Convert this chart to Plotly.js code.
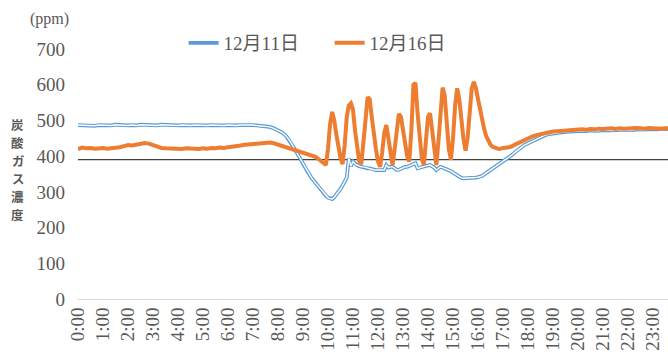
<!DOCTYPE html>
<html><head><meta charset="utf-8">
<script src="https://cdn.plot.ly/plotly-3.0.1.min.js"></script>
<style>html,body{margin:0;padding:0;background:#fff}#chart{width:668px;height:356px}</style>
</head><body><div id="chart"></div>
<script>
const seriesNames = ['12月11日', '12月16日'];
const tickLabels = ['0:00','1:00','2:00','3:00','4:00','5:00','6:00','7:00','8:00','9:00','10:00','11:00',
  '12:00','13:00','14:00','15:00','16:00','17:00','18:00','19:00','20:00','21:00','22:00','23:00'];
const yTitle = '炭酸ガス濃度';
const unitLabel = '(ppm)';
const referenceLevel = 390;

// sample times: every 10 min to 9:30, every 5 min 9:35-17:00, every 10 min 17:10-23:50
const sampleMinutes = [];
for (let m = 0; m <= 570; m += 10) sampleMinutes.push(m);
for (let m = 575; m <= 1020; m += 5) sampleMinutes.push(m);
for (let m = 1030; m <= 1430; m += 10) sampleMinutes.push(m);
const times = sampleMinutes.map(m => Math.floor(m / 60) + ':' + String(m % 60).padStart(2, '0'));

const dec11 = [
  // 0:00-9:30 (10 min)
  487,486,487,486,485,487, 486,487,486,488,487,486, 486,487,486,488,487,486,
  487,486,488,487,486,485, 486,487,486,486,487,486, 485,486,487,486,487,486,
  487,486,486,487,486,487, 487,486,485,484,482,478, 473,466,456,440,420,400,
  378,358,340,325,
  // 9:35-17:00 (5 min)
  318,310,302,295,289,
  284,281,280,285,292,300,308,318,328,340,394,372,
  385,378,375,372,370,370,368,366,366,364,362,361,
  361,361,362,361,375,368,370,370,366,361,362,365,
  368,370,370,372,374,378,380,366,368,370,370,372,
  374,375,372,368,361,366,370,368,366,364,361,358,
  354,350,346,342,339,338,338,338,339,338,339,340,
  341,342,345,349,353,357,361,365,368,372,376,380,
  385,
  // 17:10-23:50 (10 min)
  394,402,412,422,430,
  436,442,448,453,458,462, 464,466,467,468,469,470, 470,471,470,472,471,472,
  472,473,472,473,474,473, 474,473,475,474,475,476, 476,475,477,476,477,478
];

const dec16 = [
  // 0:00-9:30 (10 min)
  420,424,422,423,421,422, 423,421,422,424,425,428, 431,430,433,435,437,435,
  430,426,423,422,421,420, 421,420,422,421,422,420, 422,421,423,422,424,423,
  425,426,428,430,432,433, 435,437,438,439,438,436, 432,428,425,421,419,415,
  411,407,403,398,
  // 9:35-17:00 (5 min)
  394,390,386,380,375,
  420,490,524,500,460,425,395,378,430,510,542,548,
  530,470,420,385,378,430,500,565,560,510,460,420,
  385,370,410,465,487,450,410,375,420,480,518,510,
  470,430,400,385,470,600,605,520,440,395,375,440,
  510,520,470,410,375,440,540,592,570,490,420,390,
  450,540,590,560,500,450,415,450,520,590,608,590,
  560,530,500,475,455,440,432,426,423,421,420,421,
  423,
  // 17:10-23:50 (10 min)
  424,427,433,439,445,
  450,455,459,462,465,467, 469,470,471,472,472,473, 473,475,474,476,475,477,
  476,477,478,476,478,477, 478,477,479,478,477,479, 478,479,477,478,479,478
];

const toHours = s => { const p = s.split(':'); return +p[0] + (+p[1]) / 60; };
const xHours = times.map(toHours);
const tickVals = tickLabels.map(toHours);

const serif = "Liberation Serif, Noto Sans CJK JP, serif";
const grey = '#595959';
const blue = '#5B9BD5', orange = '#ED7D31';

const traces = [
  {x: xHours, y: dec11, type: 'scatter', mode: 'lines', name: seriesNames[0],
   line: {color: blue, width: 3.8}, legendgroup: 'a', hoverinfo: 'skip'},
  {x: xHours, y: dec11, type: 'scatter', mode: 'lines', name: seriesNames[0],
   line: {color: '#ffffff', width: 1.4}, legendgroup: 'a', showlegend: false, hoverinfo: 'skip'},
  {x: xHours, y: dec16, type: 'scatter', mode: 'lines', name: seriesNames[1],
   line: {color: orange, width: 4}, hoverinfo: 'skip'}
];

const annotations = [{
  text: unitLabel, xref: 'paper', yref: 'paper', x: -0.048, y: 1.12,
  xanchor: 'center', yanchor: 'middle', showarrow: false,
  font: {family: serif, size: 16, color: grey}
}];
Array.from(yTitle).forEach((ch, i) => {
  annotations.push({
    text: ch, xref: 'paper', yref: 'paper', x: -0.102, y: 0.696 - i * 0.072,
    xanchor: 'center', yanchor: 'middle', showarrow: false,
    font: {family: 'Noto Sans CJK JP, sans-serif', size: 12.4, color: grey, weight: 700}
  });
});

const layout = {
  width: 668, height: 356,
  margin: {l: 78, r: 0, t: 49, b: 57, pad: 0},
  paper_bgcolor: '#ffffff', plot_bgcolor: '#ffffff',
  showlegend: true,
  legend: {orientation: 'h', x: 0.179, y: 1.024, xanchor: 'left', yanchor: 'middle',
    font: {family: serif, size: 19, color: grey}, entrywidth: 101, entrywidthmode: 'pixels',
    bgcolor: 'rgba(0,0,0,0)'},
  xaxis: {range: [0, 23.6], tickmode: 'array', tickvals: tickVals, ticktext: tickLabels,
    tickangle: -90, showgrid: false, zeroline: false, showline: true, linecolor: '#d9d9d9',
    linewidth: 1, ticks: '', tickfont: {family: serif, size: 19, color: grey}, fixedrange: true},
  yaxis: {range: [0, 700], dtick: 100, showgrid: false, zeroline: false, showline: false,
    ticks: '', ticklabelstandoff: 12, tickfont: {family: serif, size: 19, color: grey}, fixedrange: true},
  shapes: [{type: 'line', xref: 'paper', x0: 0, x1: 1, yref: 'y', y0: referenceLevel, y1: referenceLevel,
    line: {color: '#404040', width: 1.2}, layer: 'below'}],
  annotations: annotations
};

Plotly.newPlot('chart', traces, layout, {staticPlot: true, displayModeBar: false});
</script>
</body></html>
